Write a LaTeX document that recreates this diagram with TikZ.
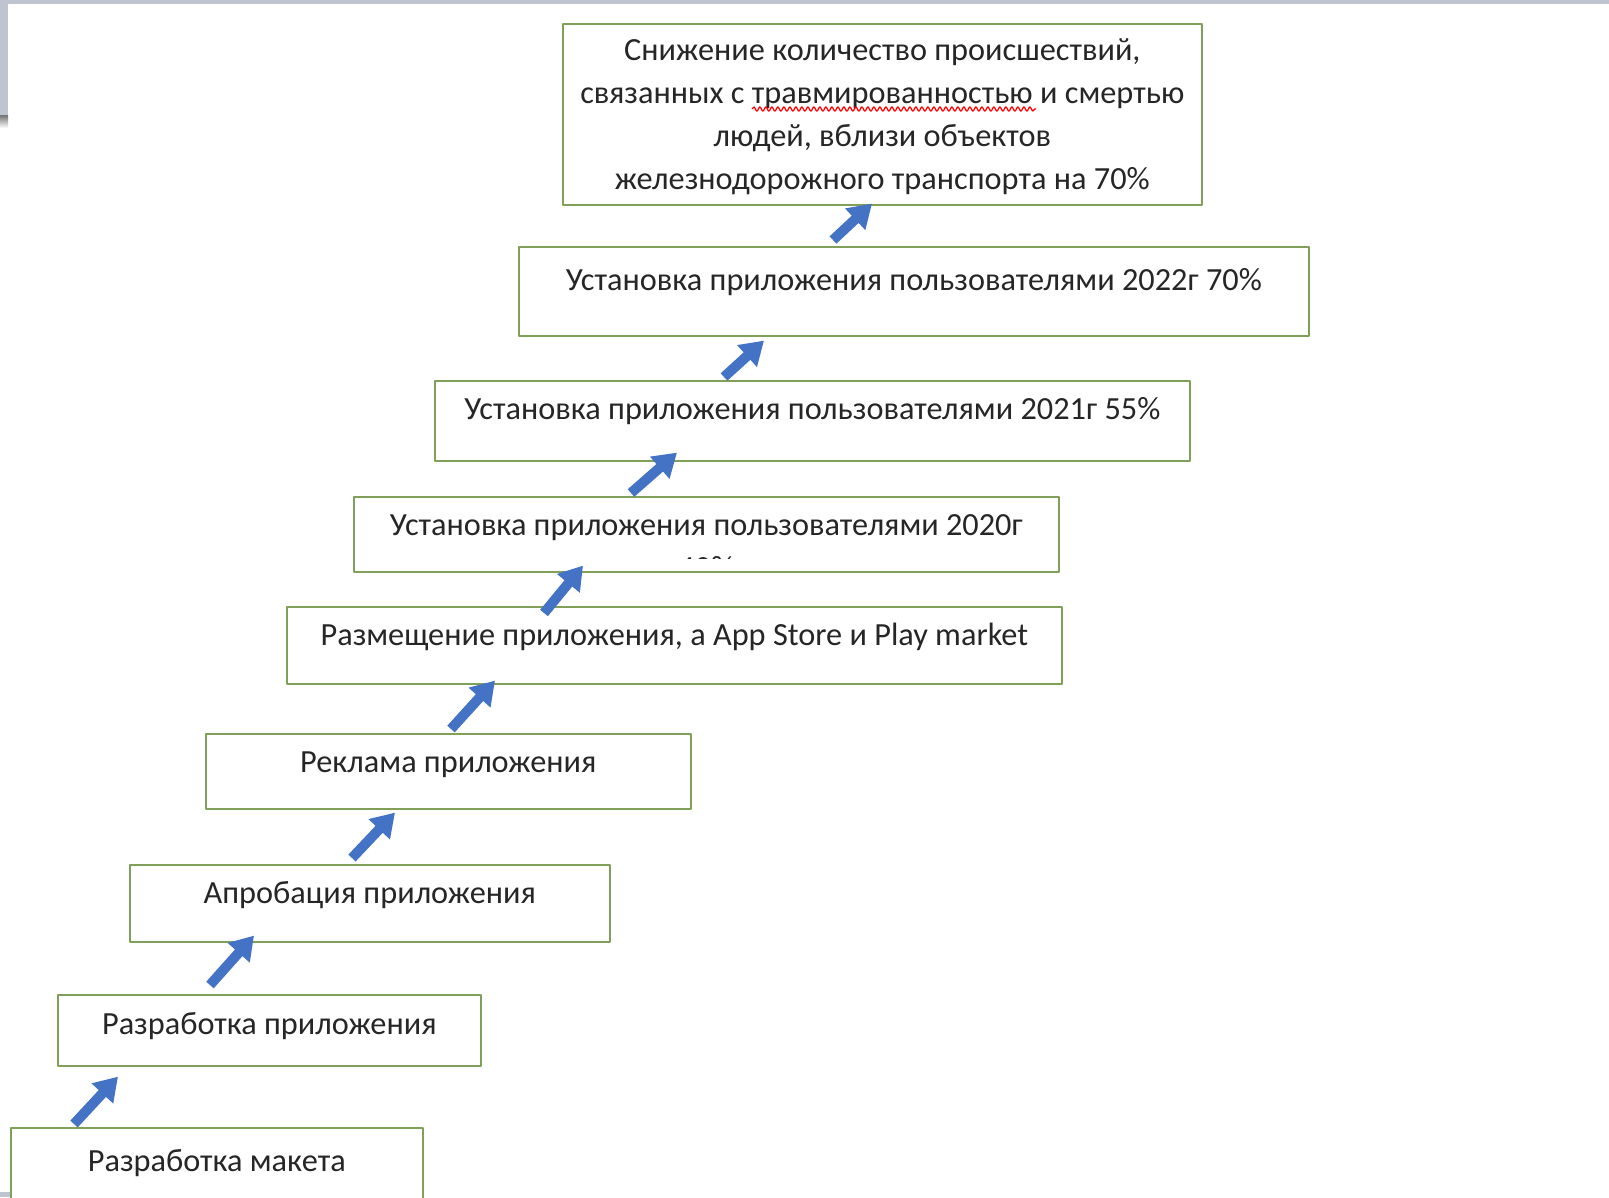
\documentclass[tikz,border=0pt]{standalone}
\usepackage{fontspec}
\setmainfont{Carlito}
\usetikzlibrary{arrows.meta,decorations.pathmorphing}
\definecolor{boxgreen}{RGB}{128,160,90}
\definecolor{arrblue}{RGB}{68,114,196}
\definecolor{framegray}{RGB}{190,197,208}
\tikzset{
  stage/.style={draw=boxgreen, line width=1.6pt, fill=white, anchor=north west, inner sep=0pt},
  stagetext/.style={font=\fontsize{32.3}{43}\selectfont, text=black!85, inner sep=0pt, align=center, anchor=base},
  up/.style={draw=arrblue, line width=10pt, -{Triangle[width=28pt,length=23pt]}}
}
\begin{document}
\begin{tikzpicture}[x=1pt,y=-1pt, line join=round]
\useasboundingbox (0,0) rectangle (1609,1197);
\fill[white] (0,0) rectangle (1609,1197);
% screen edges
\fill[framegray] (0,0) rectangle (1609,4);
\fill[framegray] (0,0) rectangle (8,115);
\shade[top color=black!55, bottom color=white] (0,115) rectangle (8,128);
\fill[framegray] (0,1192) rectangle (10,1197);
% stages
\node[stage, minimum width=639pt, minimum height=181pt] (b1) at (562,23) {};
\node[stage, minimum width=790pt, minimum height=89pt] (b2) at (518,246) {};
\node[stage, minimum width=755pt, minimum height=80pt] (b3) at (434,380) {};
\node[stage, minimum width=705pt, minimum height=75pt] (b4) at (353,496) {};
\node[stage, minimum width=775pt, minimum height=77pt] (b5) at (286,606) {};
\node[stage, minimum width=485pt, minimum height=75pt] (b6) at (205,733) {};
\node[stage, minimum width=480pt, minimum height=77pt] (b7) at (129,864) {};
\node[stage, minimum width=423pt, minimum height=71pt] (b8) at (57,994) {};
\node[stage, minimum width=412pt, minimum height=95pt] (b9) at (10,1127) {};
% texts (base = last line)
\node[stagetext] (t1) at ([shift={(0,166)}]b1.north) {Снижение количество происшествий,\\связанных с травмированностью и смертью\\людей, вблизи объектов\\железнодорожного транспорта на 70\%};
\draw[red, line width=1.3pt, decorate, decoration={snake, amplitude=2pt, segment length=6pt}] (752,109) -- (1036,109);
\node[stagetext] (t2) at ([shift={(0,44)}]b2.north) {Установка приложения пользователями 2022г 70\%};
\node[stagetext] (t3) at ([shift={(0,39)}]b3.north) {Установка приложения пользователями 2021г 55\%};
\begin{scope}
\clip (b4.north west) rectangle ([shift={(0,-14)}]b4.south east);
\node[stagetext] (t4) at ([shift={(0,82)}]b4.north) {Установка приложения пользователями 2020г\\40\%};
\end{scope}
\node[stagetext] (t5) at ([shift={(0,39)}]b5.north) {Размещение приложения, а App Store и Play market};
\node[stagetext] (t6) at ([shift={(0,39)}]b6.north) {Реклама приложения};
\node[stagetext] (t7) at ([shift={(0,39)}]b7.north) {Апробация приложения};
\node[stagetext] (t8) at ([shift={(0,40)}]b8.north) {Разработка приложения};
\node[stagetext] (t9) at ([shift={(0,44)}]b9.north) {Разработка макета};
% arrows
\draw[up] ([shift={(64,-3)}]b9.north west) -- ([shift={(61,10)}]b8.south west);
\draw[up] ([shift={(153,-9)}]b8.north west) -- ([shift={(125,-7)}]b7.south west);
\draw[up] ([shift={(223,-6)}]b7.north west) -- ([shift={(190,3)}]b6.south west);
\draw[up] ([shift={(246,-4)}]b6.north west) -- ([shift={(209,-4)}]b5.south west);
\draw[up] ([shift={(258,7)}]b5.north west) -- ([shift={(230,-7)}]b4.south west);
\draw[up] ([shift={(278,-3)}]b4.north west) -- ([shift={(243,-9)}]b3.south west);
\draw[up] ([shift={(290,-3)}]b3.north west) -- ([shift={(246,4)}]b2.south west);
\draw[up] ([shift={(315,-6)}]b2.north west) -- ([shift={(310,-2)}]b1.south west);
\end{tikzpicture}
\end{document}
